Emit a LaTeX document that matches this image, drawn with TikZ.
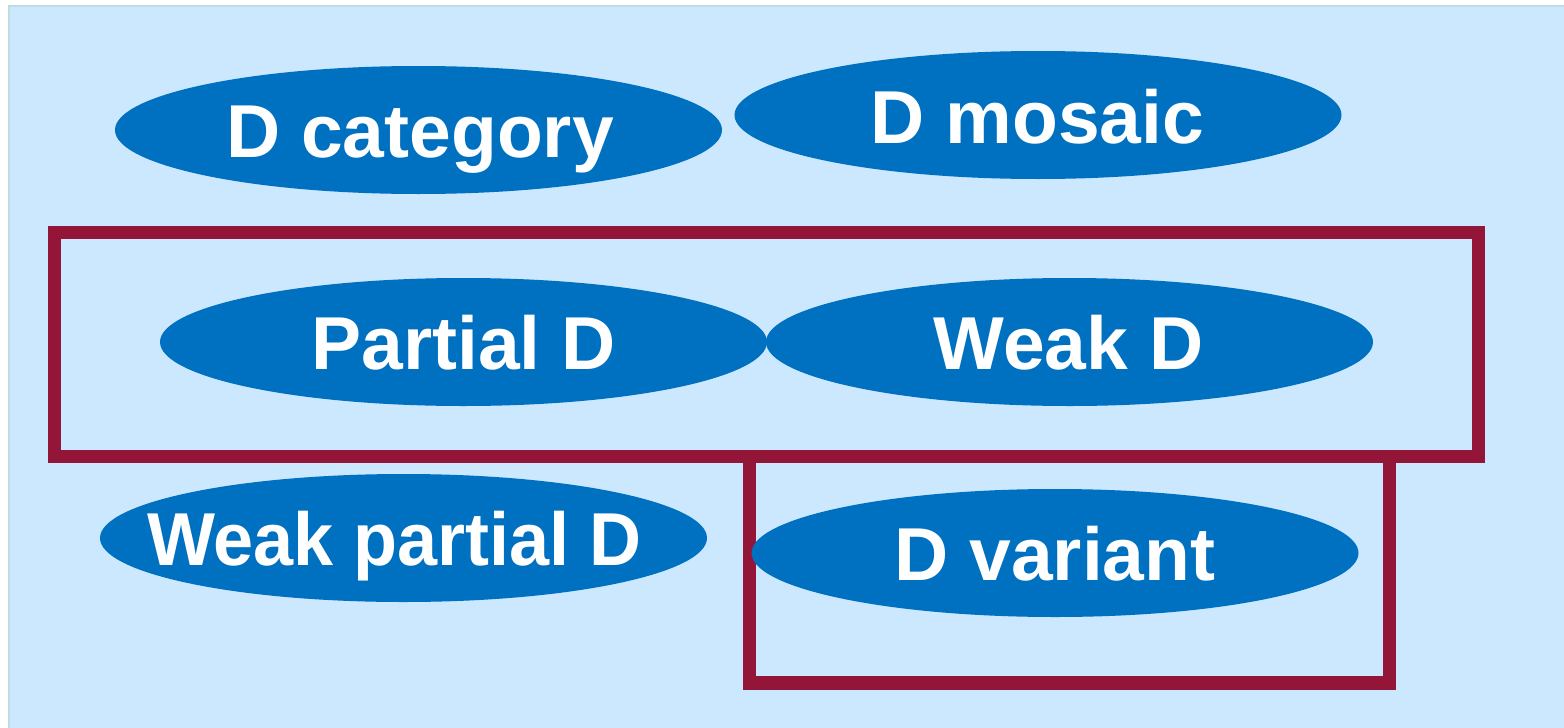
\documentclass[tikz,border=0pt]{standalone}
\usepackage{fontspec}
\setmainfont{Liberation Sans}
\usetikzlibrary{shapes.geometric}
\definecolor{bgblue}{RGB}{204,232,255}
\definecolor{bgedge}{RGB}{186,222,226}
\definecolor{blobblue}{RGB}{0,112,192}
\definecolor{framered}{RGB}{147,22,56}
\tikzset{
  blob/.style={ellipse, fill=blobblue, draw=none, inner sep=0pt,
    minimum width=607pt, minimum height=128pt},
  lbl/.style={text=white, inner sep=0pt, text height=53.7pt, text depth=0pt,
    font=\fontsize{75}{80}\selectfont\bfseries},
  frame/.style={draw=framered, line width=13.5pt}
}
\begin{document}
\begin{tikzpicture}[x=1pt,y=-1pt]
\useasboundingbox (0,0) rectangle (1564,728);
\fill[bgblue] (8,5) rectangle (1564,728);
\draw[bgedge, line width=2pt] (1580,6) -- (9,6) -- (9,740);
% frames
\draw[frame] (749.5,456.5) rectangle (1389.5,683);
\draw[frame] (54.3,232.5) rectangle (1478.5,456.5);
% ellipses
\node[blob] (cat) at (418.5,130) {};
\node[blob] (mos) at (1038,115) {};
\node[blob] (par) at (463.5,342) {};
\node[blob] (wk) at (1069.5,342) {};
\node[blob] (wpar) at (403.5,538) {};
\node[blob] (var) at (1055,553) {};
% labels
\node[lbl] (tcat) at (420,131) {D category};
\node[lbl] (tmos) at (1037.5,116.5) {D mosaic};
\node[lbl] (tpar) at (463.5,343) {Partial D};
\node[lbl] (twk) at (1068.5,343) {Weak D};
\node[lbl] (twpar) at (394.5,539) {\scalebox{0.96}[1]{Weak partial D}};
\node[lbl] (tvar) at (1055,554) {D variant};
\end{tikzpicture}
\end{document}
